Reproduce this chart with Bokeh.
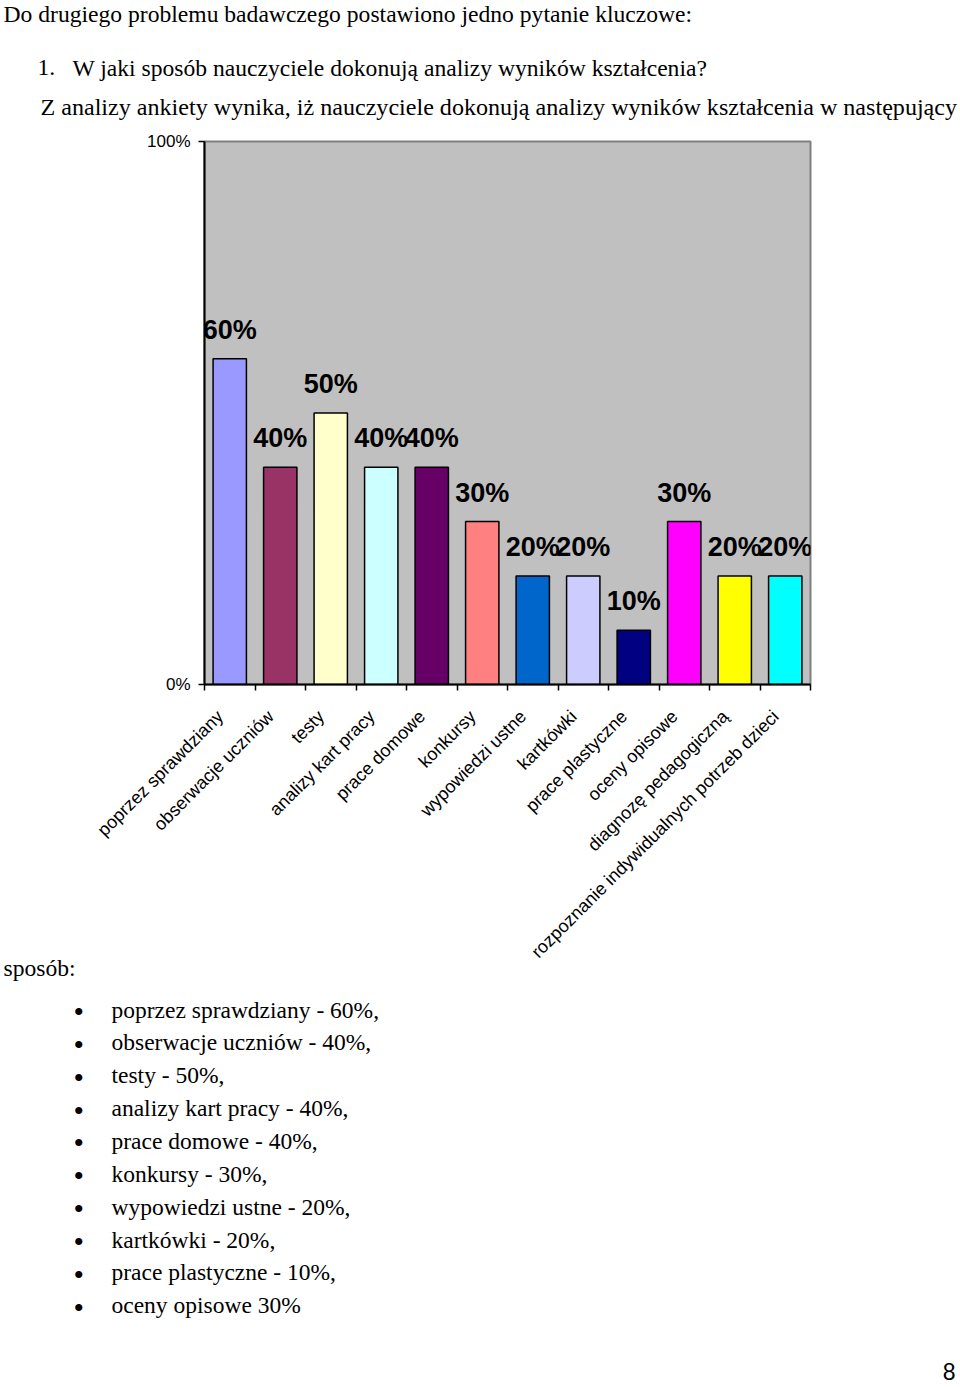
import math
from bokeh.plotting import figure
from bokeh.models import Range1d, FixedTicker, NumeralTickFormatter
from bokeh.core.properties import value
from bokeh.embed import file_html
from bokeh.resources import INLINE

# ---------------- data ----------------
categories = [
    "poprzez sprawdziany", "obserwacje uczniów", "testy", "analizy kart pracy",
    "prace domowe", "konkursy", "wypowiedzi ustne", "kartkówki",
    "prace plastyczne", "oceny opisowe", "diagnozę pedagogiczną",
    "rozpoznanie indywidualnych potrzeb dzieci",
]
values = [0.60, 0.40, 0.50, 0.40, 0.40, 0.30, 0.20, 0.20, 0.10, 0.30, 0.20, 0.20]
bar_colors = ["#9999FF", "#993366", "#FFFFCC", "#CCFFFF", "#660066", "#FF8080",
              "#0066CC", "#CCCCFF", "#000080", "#FF00FF", "#FFFF00", "#00FFFF"]
y_ticks = [0, 1]

heading_lines = [
    "Do drugiego problemu badawczego  postawiono jedno pytanie kluczowe:",
    "W jaki sposób nauczyciele dokonują analizy wyników kształcenia?",
    "Z analizy ankiety wynika, iż nauczyciele dokonują analizy wyników kształcenia w następujący",
]
list_number = "1."
after_chart = "sposób:"
bullet_items = [
    "poprzez sprawdziany - 60%,",
    "obserwacje uczniów - 40%,",
    "testy - 50%,",
    "analizy kart pracy - 40%,",
    "prace domowe - 40%,",
    "konkursy -  30%,",
    "wypowiedzi ustne - 20%,",
    "kartkówki - 20%,",
    "prace plastyczne - 10%,",
    "oceny opisowe 30%",
]
page_number = "8"

# ---------------- figure ----------------
W, H = 960, 1387
FRAME_L, FRAME_T, FRAME_R, FRAME_B = 204, 141, 810, 684   # canvas px
N = len(categories)

p = figure(width=W, height=H, output_backend="svg", toolbar_location=None,
           x_range=Range1d(0, N), y_range=Range1d(0, 1),
           min_border_left=FRAME_L, min_border_top=FRAME_T,
           min_border_right=W - FRAME_R, min_border_bottom=H - FRAME_B)
p.background_fill_color = "#C0C0C0"
p.border_fill_color = "white"
p.outline_line_color = "#808080"
p.outline_line_width = 2
p.xgrid.visible = False
p.ygrid.visible = False

xs = [i + 0.5 for i in range(N)]
p.vbar(x=xs, top=values, bottom=0, width=0.66, fill_color=bar_colors,
       line_color="black", line_width=1.5)
p.text(x=xs, y=values, text=[f"{round(v * 100)}%" for v in values],
       text_align="center", text_baseline="alphabetic", y_offset=-29,
       text_font=value("Liberation Sans"), text_font_style="bold",
       text_font_size="27px", text_color="black")

# y axis
ya = p.yaxis[0]
ya.ticker = FixedTicker(ticks=y_ticks, minor_ticks=[])
ya.formatter = NumeralTickFormatter(format="0%")
ya.axis_line_color = "black"
ya.axis_line_width = 2
ya.major_tick_out = 6
ya.major_tick_in = 0
ya.major_tick_line_width = 1.5
ya.major_label_standoff = 8
ya.major_label_text_font = "Liberation Sans"
ya.major_label_text_font_size = "17px"
ya.major_label_text_color = "black"

# x axis: labels near the category centres, ticks at category boundaries
label_pos = [i + 0.31 for i in range(N)]
xa = p.xaxis[0]
xa.ticker = FixedTicker(ticks=label_pos, minor_ticks=list(range(N + 1)))
xa.major_label_overrides = {x: c for x, c in zip(label_pos, categories)}
xa.major_tick_out = 0
xa.major_tick_in = 0
xa.minor_tick_out = 6
xa.minor_tick_in = 0
xa.minor_tick_line_color = "black"
xa.minor_tick_line_width = 1.5
xa.axis_line_color = "black"
xa.axis_line_width = 2
xa.major_label_orientation = math.pi / 4
xa.major_label_standoff = 23
xa.major_label_text_font = "Liberation Sans"
xa.major_label_text_font_size = "18px"
xa.major_label_text_color = "black"

# ---------------- document text (page px -> data coords, drawn unclipped) ----------------
PX_X = (FRAME_R - FRAME_L) / N          # px per x unit
PX_Y = (FRAME_B - FRAME_T) / 1.0        # px per y unit


def page_text(X, Y, txt, size="23.6px", font="Liberation Serif", align="left"):
    p.text(x=[(X - FRAME_L) / PX_X], y=[(FRAME_B - Y) / PX_Y], text=[txt],
           text_font=value(font), text_font_size=size, text_color="black",
           text_align=align, text_baseline="alphabetic", level="overlay")


page_text(3, 13, heading_lines[0])
page_text(37, 67, list_number)
page_text(72, 67, heading_lines[1])
page_text(40, 106, heading_lines[2], size="24.1px")
page_text(3, 967, after_chart)
for k, item in enumerate(bullet_items):
    yb = 1009 + k * 32.86
    page_text(73, yb + 2, "•", size="30px")
    page_text(111, yb, item, size="23.5px")
page_text(955, 1371, page_number, size="23px", font="Liberation Sans", align="right")

open("out.html", "w").write(file_html(p, INLINE))
